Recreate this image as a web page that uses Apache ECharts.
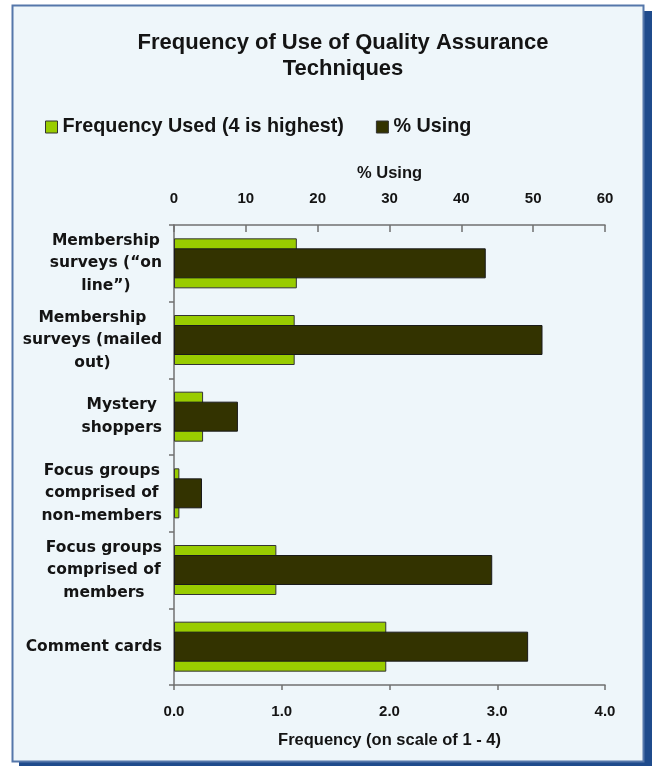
<!DOCTYPE html>
<html>
<head>
<meta charset="utf-8">
<script src="https://cdn.jsdelivr.net/npm/echarts@6/dist/echarts.min.js"></script>
<style>
html,body{margin:0;padding:0;background:#fff;}
#c{width:657px;height:766px;}
</style>
</head>
<body>
<div id="c"></div>
<script>
const categories = [
  'Membership\nsurveys (“on\nline”)',
  'Membership\nsurveys (mailed\nout)',
  'Mystery\nshoppers',
  'Focus groups\ncomprised of\nnon-members',
  'Focus groups\ncomprised of\nmembers',
  'Comment cards'
];
const frequencyUsed = [1.14, 1.12, 0.27, 0.05, 0.95, 1.97];
const pctUsing = [43.4, 51.3, 8.9, 3.9, 44.3, 49.3];
const freqTicks = { min: 0, max: 4, interval: 1 };
const pctTicks = { min: 0, max: 60, interval: 10 };

const chart = echarts.init(document.getElementById('c'), null, { renderer: 'canvas' });
const txt = '#141414';
const axisGray = '#707070';

chart.setOption({
  backgroundColor: '#ffffff',
  animation: false,
  graphic: [
    { type: 'rect', z: -10, silent: true, shape: { x: 19, y: 11, width: 633, height: 757 }, style: { fill: '#1f4b8c' } },
    { type: 'rect', z: -9, silent: true, shape: { x: 12.5, y: 5.5, width: 631, height: 756 }, style: { fill: '#eef6fa', stroke: '#5577aa', lineWidth: 2 } }
  ],
  title: {
    text: 'Frequency of Use of Quality Assurance\nTechniques',
    left: 338, top: 25, textAlign: 'center',
    textStyle: { fontFamily: 'Liberation Sans', fontWeight: 'bold', fontSize: 22, lineHeight: 26, color: txt }
  },
  legend: {
    left: 40, top: 112, itemGap: 32, itemWidth: 12, itemHeight: 12, icon: 'rect',
    textStyle: { fontFamily: 'Liberation Sans', fontWeight: 'bold', fontSize: 19.8, color: txt },
    data: [
      { name: 'Frequency Used (4 is highest)', itemStyle: { color: '#99cc00', borderColor: '#333333', borderWidth: 1 } },
      { name: '% Using', itemStyle: { color: '#333300', borderColor: '#333333', borderWidth: 1 } }
    ]
  },
  grid: { left: 174, right: 52, top: 225, bottom: 81, containLabel: false },
  xAxis: [
    {
      type: 'value', position: 'bottom', min: freqTicks.min, max: freqTicks.max, interval: freqTicks.interval,
      name: 'Frequency (on scale of 1 - 4)', nameLocation: 'middle', nameGap: 47,
      nameTextStyle: { fontFamily: 'Liberation Sans', fontWeight: 'bold', fontSize: 16.5, color: txt },
      axisLine: { show: true, lineStyle: { color: axisGray, width: 1.5 } },
      axisTick: { show: true, inside: false, length: 5, lineStyle: { color: axisGray, width: 1.5 } },
      axisLabel: { margin: 19, fontFamily: 'Liberation Sans', fontWeight: 'bold', fontSize: 15, color: txt, formatter: v => v.toFixed(1) },
      splitLine: { show: false }
    },
    {
      type: 'value', position: 'top', min: pctTicks.min, max: pctTicks.max, interval: pctTicks.interval,
      name: '% Using', nameLocation: 'middle', nameGap: 43,
      nameTextStyle: { fontFamily: 'Liberation Sans', fontWeight: 'bold', fontSize: 16.5, color: txt },
      axisLine: { show: true, lineStyle: { color: axisGray, width: 1.5 } },
      axisTick: { show: true, inside: true, length: 7, lineStyle: { color: axisGray, width: 1.5 } },
      axisLabel: { margin: 19, fontFamily: 'Liberation Sans', fontWeight: 'bold', fontSize: 15, color: txt },
      splitLine: { show: false }
    }
  ],
  yAxis: [
    {
      type: 'category', inverse: true, data: categories,
      axisLine: { show: true, lineStyle: { color: axisGray, width: 1.5 } },
      axisTick: { show: true, inside: false, length: 5, lineStyle: { color: axisGray, width: 1.5 } },
      axisLabel: {
        margin: 12, align: 'right', color: txt,
        formatter: v => v.split('\n').map(l => '{c|' + l + '}').join('\n'),
        rich: { c: { align: 'center', fontFamily: 'DejaVu Sans', fontWeight: 'bold', fontSize: 15.5, lineHeight: 22.5, color: txt } }
      }
    },
    {
      type: 'category', inverse: true, data: categories, show: false
    }
  ],
  series: [
    {
      name: 'Frequency Used (4 is highest)', type: 'bar', xAxisIndex: 0, yAxisIndex: 0,
      data: frequencyUsed, barWidth: 50,
      itemStyle: { color: '#99cc00', borderColor: '#333333', borderWidth: 1 }, z: 2
    },
    {
      name: '% Using', type: 'bar', xAxisIndex: 1, yAxisIndex: 1,
      data: pctUsing, barWidth: 30,
      itemStyle: { color: '#333300', borderColor: '#1a1a1a', borderWidth: 1 }, z: 3
    }
  ]
});
</script>
</body>
</html>
